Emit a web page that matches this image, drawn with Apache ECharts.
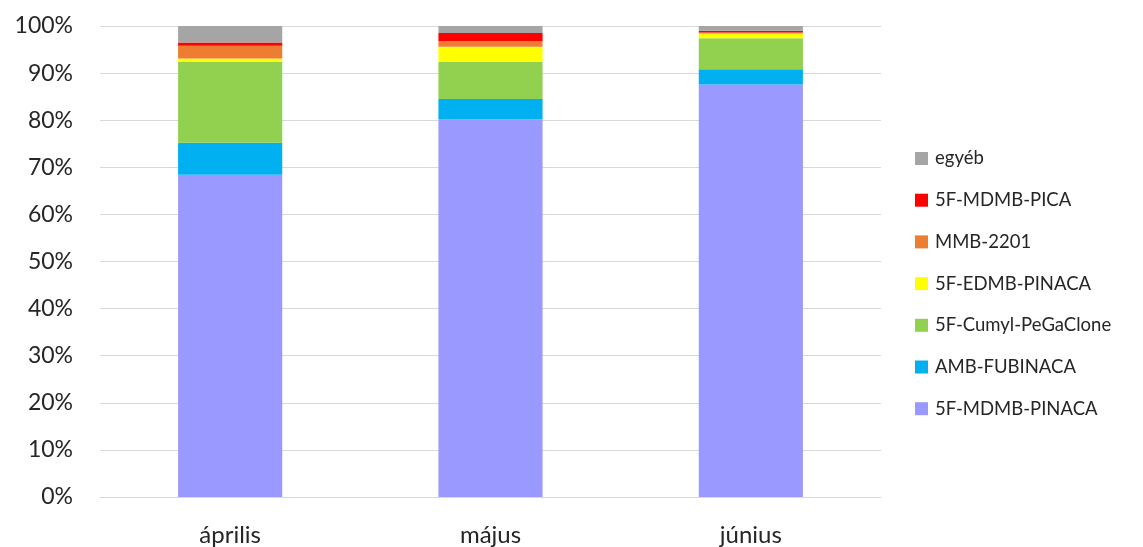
<!DOCTYPE html>
<html>
<head>
<meta charset="utf-8">
<script src="https://cdn.jsdelivr.net/npm/echarts@6/dist/echarts.min.js"></script>
<style>
  html, body { margin: 0; padding: 0; background: #fff; }
  #chart { width: 1143px; height: 547px; }
</style>
</head>
<body>
<div id="chart"></div>
<script>
// Monthly share of synthetic cannabinoids (stacked to 100%)
const months = ['április', 'május', 'június'];

const mdmbPinaca   = [68.4, 80.2, 87.6];
const ambFubinaca  = [6.8, 4.3, 3.2];
const cumylPegaclone = [17.2, 7.9, 6.6];
const edmbPinaca   = [0.7, 3.2, 1.0];
const mmb2201      = [2.7, 1.2, 0.2];
const mdmbPica     = [0.7, 1.7, 0.4];
const egyeb        = [3.5, 1.5, 1.0];

const yTicks = ['0%', '10%', '20%', '30%', '40%', '50%', '60%', '70%', '80%', '90%', '100%'];

const seriesDefs = [
  { name: '5F-MDMB-PINACA', data: mdmbPinaca, color: '#9999FF' },
  { name: 'AMB-FUBINACA', data: ambFubinaca, color: '#00B0F0' },
  { name: '5F-Cumyl-PeGaClone', data: cumylPegaclone, color: '#92D050' },
  { name: '5F-EDMB-PINACA', data: edmbPinaca, color: '#FFFF00' },
  { name: 'MMB-2201', data: mmb2201, color: '#ED7D31' },
  { name: '5F-MDMB-PICA', data: mdmbPica, color: '#FF0000' },
  { name: 'egyéb', data: egyeb, color: '#A5A5A5' }
];

const font = 'Lato, "Open Sans", sans-serif';
const chart = echarts.init(document.getElementById('chart'));

chart.setOption({
  animation: false,
  grid: { left: 100, right: 262, top: 26, bottom: 50 },
  legend: {
    orient: 'vertical',
    left: 910,
    top: 144,
    itemWidth: 13,
    itemHeight: 13,
    itemGap: 22.7,
    icon: 'rect',
    data: seriesDefs.map(s => s.name).reverse(),
    textStyle: { fontFamily: font, fontSize: 18.5, color: '#262626', padding: [0, 0, 0, 2] }
  },
  xAxis: {
    type: 'category',
    data: months,
    axisTick: { show: false },
    axisLine: { lineStyle: { color: '#D9D9D9', width: 1 } },
    axisLabel: { fontFamily: font, fontSize: 24, color: '#262626', margin: 26 }
  },
  yAxis: {
    type: 'value',
    min: 0,
    max: 100,
    interval: 10,
    axisLine: { show: false },
    axisTick: { show: false },
    splitLine: { lineStyle: { color: '#D9D9D9', width: 1 } },
    axisLabel: {
      fontFamily: font, fontSize: 23, color: '#262626', margin: 27,
      formatter: v => yTicks[Math.round(v / 10)]
    }
  },
  series: seriesDefs.map(s => ({
    name: s.name,
    type: 'bar',
    stack: 'total',
    barWidth: '40%',
    data: s.data,
    itemStyle: { color: s.color },
    emphasis: { disabled: true }
  }))
});
</script>
</body>
</html>
